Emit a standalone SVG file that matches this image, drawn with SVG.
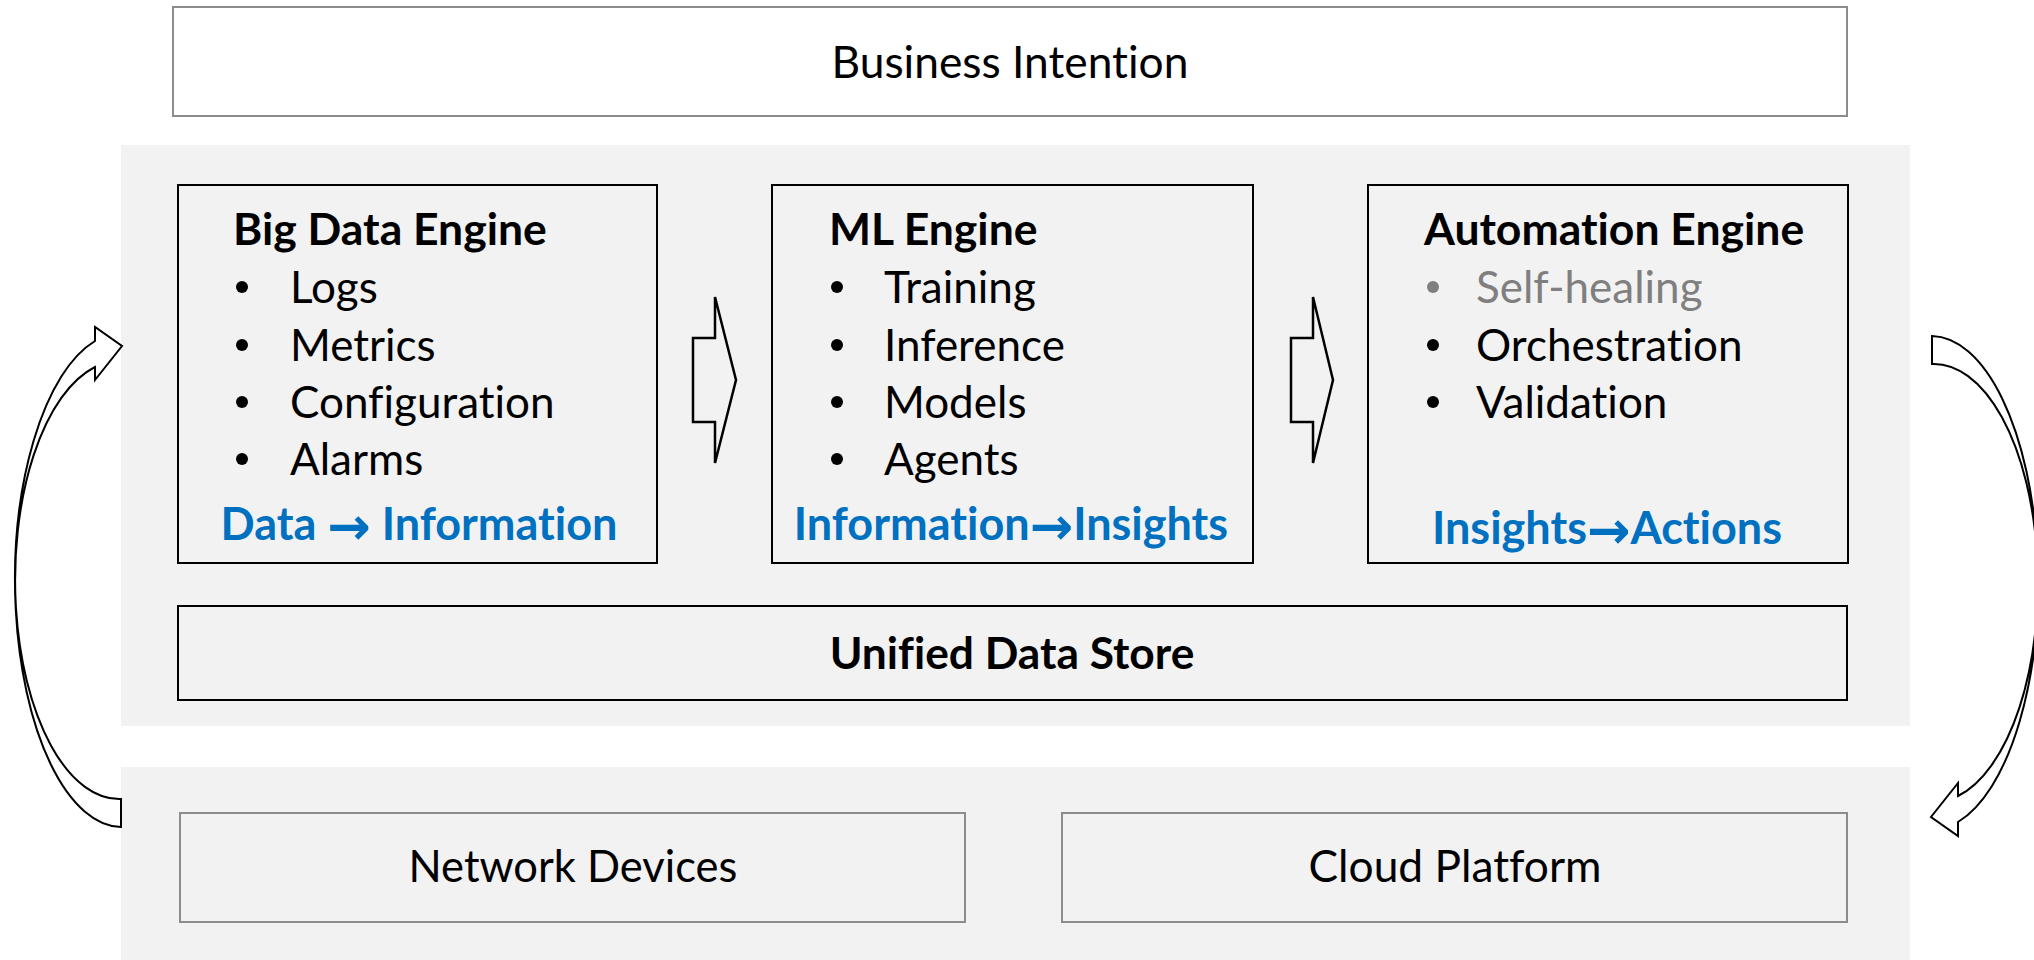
<svg xmlns="http://www.w3.org/2000/svg" width="2034" height="960" viewBox="0 0 2034 960">
<style>
.panel{fill:#f2f2f2;stroke:none}
.gbox{fill:#ffffff;stroke:#8c8c8c;stroke-width:2}
.gbox2{fill:#f2f2f2;stroke:#8c8c8c;stroke-width:2}
.ebox{fill:#f2f2f2;stroke:#000;stroke-width:2}
.blk{fill:#f2f2f2;stroke:#000;stroke-width:2.5;stroke-linejoin:miter}
.carrow{fill:#ffffff;stroke:#000;stroke-width:2;stroke-linejoin:miter}
text{font-family:Lato,"Liberation Sans",sans-serif;fill:#000;font-variant-ligatures:none}
.title{font-weight:bold;font-size:44.5px}
.item{font-size:44px}
.blue{font-weight:bold;font-size:45px;fill:#0070c0;text-anchor:middle}
.arr{font-family:"DejaVu Sans",sans-serif;font-weight:bold;font-size:52px;baseline-shift:-4px}
.center{text-anchor:middle;font-size:44.3px}
.bold{font-weight:bold}
.gray{fill:#7f7f7f}
.bul{fill:#000}
.bulg{fill:#7f7f7f}
</style>
<rect width="2034" height="960" fill="#ffffff"/>
<rect class="panel" x="121" y="145" width="1789" height="581"/>
<rect class="panel" x="121" y="767" width="1789" height="193"/>

<g id="business-intention">
<rect class="gbox" x="173" y="7" width="1674" height="109"/>
<text class="center" x="1010" y="78">Business Intention</text>
</g>

<g id="big-data-engine">
<rect class="ebox" x="178" y="185" width="479" height="378"/>
<text class="title" x="233" y="245">Big Data Engine</text>
<circle class="bul" cx="242" cy="287" r="6"/>
<circle class="bul" cx="242" cy="345" r="6"/>
<circle class="bul" cx="242" cy="402" r="6"/>
<circle class="bul" cx="242" cy="459" r="6"/>
<text class="item" x="290" y="303">Logs</text>
<text class="item" x="290" y="361">Metrics</text>
<text class="item" x="290" y="418">Configuration</text>
<text class="item" x="290" y="475">Alarms</text>
<text class="blue" x="419" y="540">Data <tspan class="arr">→</tspan> Information</text>
</g>

<g id="ml-engine">
<rect class="ebox" x="772" y="185" width="481" height="378"/>
<text class="title" x="829" y="245">ML Engine</text>
<circle class="bul" cx="837" cy="287" r="6"/>
<circle class="bul" cx="837" cy="345" r="6"/>
<circle class="bul" cx="837" cy="402" r="6"/>
<circle class="bul" cx="837" cy="459" r="6"/>
<text class="item" x="884" y="303">Training</text>
<text class="item" x="884" y="361">Inference</text>
<text class="item" x="884" y="418">Models</text>
<text class="item" x="884" y="475">Agents</text>
<text class="blue" x="1011" y="540">Information<tspan class="arr">→</tspan>Insights</text>
</g>

<g id="automation-engine">
<rect class="ebox" x="1368" y="185" width="480" height="378"/>
<text class="title" x="1424" y="245">Automation Engine</text>
<circle class="bulg" cx="1433" cy="287" r="6"/>
<circle class="bul" cx="1433" cy="345" r="6"/>
<circle class="bul" cx="1433" cy="402" r="6"/>
<text class="item gray" x="1476" y="303">Self-healing</text>
<text class="item" x="1476" y="361">Orchestration</text>
<text class="item" x="1476" y="418">Validation</text>
<text class="blue" x="1607" y="544">Insights<tspan class="arr">→</tspan>Actions</text>
</g>

<g id="unified-data-store">
<rect class="ebox" x="178" y="606" width="1669" height="94"/>
<text class="center bold" x="1012" y="669">Unified Data Store</text>
</g>

<g id="network-devices">
<rect class="gbox2" x="180" y="813" width="785" height="109"/>
<text class="center" x="573" y="882" style="font-size:43.5px">Network Devices</text>
</g>

<g id="cloud-platform">
<rect class="gbox2" x="1062" y="813" width="785" height="109"/>
<text class="center" x="1455" y="882">Cloud Platform</text>
</g>

<g id="connectors">
<polygon class="blk" points="693,338 715,338 715,297 736,380 715,463 715,422 693,422"/>
<polygon class="blk" points="1291,338 1313,338 1313,297 1333,380 1313,463 1313,422 1291,422"/>
<path id="loop-up" class="carrow" d="M121,827 A107,247 0 0 1 95,341 L95,327 L122,346 L95,380 L95,367 A104,219 0 0 0 121,799 Z"/>
<path id="loop-down" class="carrow" transform="rotate(180 1026.5 581.5)" d="M121,827 A107,247 0 0 1 95,341 L95,327 L122,346 L95,380 L95,367 A104,219 0 0 0 121,799 Z"/>
</g>
</svg>
